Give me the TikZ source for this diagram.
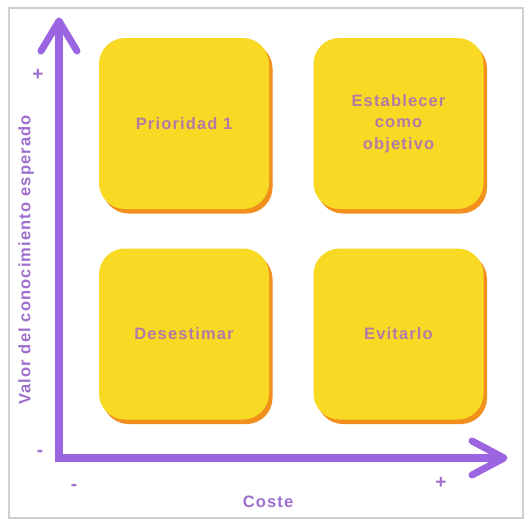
\documentclass[tikz,border=0pt]{standalone}
\usepackage{fontspec}
\setmainfont{Liberation Sans}[LetterSpace=7]
\usetikzlibrary{shadows}
\definecolor{axiscol}{HTML}{9B64E1}
\definecolor{boxfill}{HTML}{F8D923}
\definecolor{boxshadow}{HTML}{F2901E}
\definecolor{boxtext}{HTML}{B27BA6}
\definecolor{labelcol}{HTML}{9F6FCF}
\definecolor{framecol}{HTML}{CFCFCF}
\begin{document}
\begin{tikzpicture}[x=1pt,y=-1pt,
  quad/.style={rounded corners=26pt, fill=boxfill, minimum width=170pt, minimum height=171pt,
    inner sep=0pt, text=boxtext, align=center, text width=160pt,
    font=\bfseries\fontsize{16.5}{21.5}\selectfont,
    drop shadow={shadow xshift=3.5pt, shadow yshift=-4.5pt, fill=boxshadow, opacity=1}},
  axis/.style={draw=axiscol, line width=7.5pt},
  tipline/.style={draw=axiscol, line width=7pt, line cap=round, line join=round},
  axlabel/.style={text=labelcol, font=\bfseries\fontsize{16.5}{18}\selectfont, inner sep=0pt},
  sign/.style={text=labelcol, font=\bfseries\fontsize{19}{20}\selectfont, inner sep=0pt}]
\fill[white] (0,0) rectangle (526,525);
\useasboundingbox (0,0) rectangle (526,525);
\draw[framecol, line width=1.2pt] (9,8) rectangle (523,518);

% quadrants
\node[quad] (q1) at (184,123.5) {Prioridad 1};
\node[quad] (q2) at (398.5,123.5) {Establecer\\como\\objetivo};
\node[quad] (q3) at (184,334) {Desestimar};
\node[quad] (q4) at (398.5,334) {Evitarlo};

% axes
\coordinate (origin) at (59,458);
\coordinate (ytip) at (59,21);
\coordinate (xtip) at (504,458);
\draw[axis, line join=miter] (ytip) -- (origin) -- (xtip);
\draw[tipline] ([shift={(-18,30)}]ytip) -- (ytip) -- ([shift={(18,30)}]ytip);
\draw[tipline] ([shift={(-32,-17)}]xtip) -- (xtip) -- ([shift={(-32,17)}]xtip);

% labels
\node[axlabel, rotate=90] (ylab) at (26,260) {Valor del conocimiento esperado};
\node[axlabel] (xlab) at (268,502) {Coste};
\node[sign] (yplus) at (38,75) {+};
\node[sign] (yminus) at (40,453) {-};
\node[sign] (xminus) at (74,487) {-};
\node[sign] (xplus) at (441,483) {+};
\end{tikzpicture}
\end{document}
